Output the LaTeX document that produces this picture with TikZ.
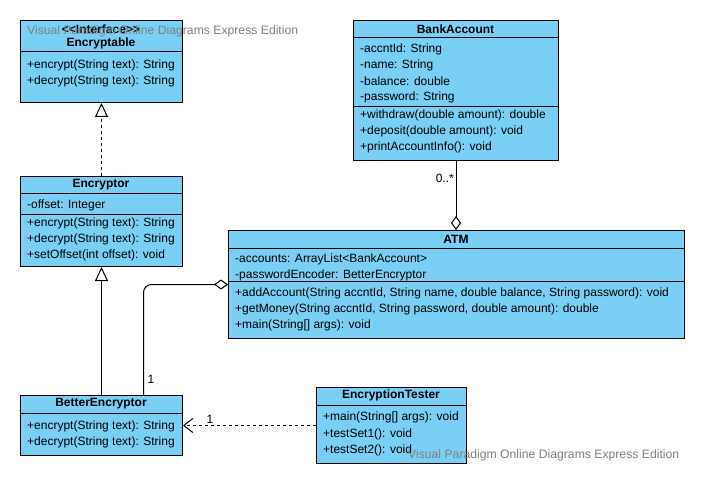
\documentclass[tikz,border=0pt]{standalone}
\usepackage{fontspec}
\setmainfont{Liberation Sans}
\usetikzlibrary{arrows.meta,positioning}
\definecolor{umlblue}{RGB}{122,207,245}
\definecolor{wmgray}{RGB}{128,128,128}

\tikzset{
	cls/.style={draw=black, fill=umlblue, anchor=north west, inner sep=0pt, line width=1pt},
	sep/.style={line width=1pt},
	head/.style={inner sep=0pt, font=\bfseries\fontsize{12}{14}\selectfont},
	item/.style={anchor=west, inner sep=0pt, font=\fontsize{12}{14}\selectfont},
	lbl/.style={inner sep=0pt, font=\fontsize{12}{14}\selectfont},
	wm/.style={anchor=west, inner sep=0pt, text=wmgray, font=\fontsize{12.2}{14}\selectfont},
	conn/.style={line width=1pt},
}

\begin{document}
\begin{tikzpicture}[x=1pt,y=-1pt]
	\useasboundingbox (0,0) rectangle (706,486);

	% Encryptable
	\node[cls, minimum width=162pt, minimum height=82pt] (encryptable) at (20,20) {};
		\draw[sep] (20,52) -- (182,52);
		\node[head] (encryptable-s) at (101,29) {\textless\kern0pt\textless\kern0pt Interface\kern0pt\textgreater\kern0pt\textgreater};
		\node[head] (encryptable-n) at (101,43) {Encryptable};
		\node[item] (encryptable-m1) at (27,65) {+encrypt(String text): String};
		\node[item] (encryptable-m2) at (27,81) {+decrypt(String text): String};

	% Encryptor
	\node[cls, minimum width=162pt, minimum height=90pt] (encryptor) at (20,176) {};
		\draw[sep] (20,194) -- (182,194);
		\draw[sep] (20,215) -- (182,215);
		\node[head] (encryptor-n) at (101,185) {Encryptor};
		\node[item] (encryptor-a1) at (27,205) {-offset: Integer};
		\node[item] (encryptor-m1) at (27,223) {+encrypt(String text): String};
		\node[item] (encryptor-m2) at (27,239) {+decrypt(String text): String};
		\node[item] (encryptor-m3) at (27,255) {+setOffset(int offset): void};

	% BetterEncryptor
	\node[cls, minimum width=162pt, minimum height=60pt] (betterenc) at (20,395) {};
		\draw[sep] (20,413) -- (182,413);
		\node[head] (betterenc-n) at (101,404) {BetterEncryptor};
		\node[item] (betterenc-m1) at (27,426) {+encrypt(String text): String};
		\node[item] (betterenc-m2) at (27,442) {+decrypt(String text): String};

	% BankAccount
	\node[cls, minimum width=205pt, minimum height=140pt] (bankaccount) at (353,20) {};
		\draw[sep] (353,38) -- (558,38);
		\draw[sep] (353,107) -- (558,107);
		\node[head] (bankaccount-n) at (455.5,29) {BankAccount};
		\node[item] (bankaccount-a1) at (360,49) {-accntId: String};
		\node[item] (bankaccount-a2) at (360,65) {-name: String};
		\node[item] (bankaccount-a3) at (360,81) {-balance: double};
		\node[item] (bankaccount-a4) at (360,97) {-password: String};
		\node[item] (bankaccount-m1) at (360,115) {+withdraw(double amount): double};
		\node[item] (bankaccount-m2) at (360,131) {+deposit(double amount): void};
		\node[item] (bankaccount-m3) at (360,147) {+printAccountInfo(): void};

	% ATM
	\node[cls, minimum width=456pt, minimum height=108pt] (atm) at (228,230) {};
		\draw[sep] (228,248) -- (684,248);
		\draw[sep] (228,281) -- (684,281);
		\node[head] (atm-n) at (456,239) {ATM};
		\node[item] (atm-a1) at (235,259) {-accounts: ArrayList\textless BankAccount\textgreater};
		\node[item] (atm-a2) at (235,275) {-passwordEncoder: BetterEncryptor};
		\node[item] (atm-m1) at (235,293) {+addAccount(String accntId, String name, double balance, String password): void};
		\node[item] (atm-m2) at (235,309) {+getMoney(String accntId, String password, double amount): double};
		\node[item] (atm-m3) at (235,325) {+main(String[] args): void};

	% EncryptionTester
	\node[cls, minimum width=150pt, minimum height=76pt] (tester) at (316,387) {};
		\draw[sep] (316,405) -- (466,405);
		\node[head] (tester-n) at (391,395) {EncryptionTester};
		\node[item] (tester-m1) at (323,417) {+main(String[] args): void};
		\node[item] (tester-m2) at (323,434) {+testSet1(): void};
		\node[item] (tester-m3) at (323,450) {+testSet2(): void};

	% connectors
	\draw[conn, dashed, -{Triangle[open, length=14pt, width=13pt, line width=1pt]}] (encryptor.north) -- (encryptable.south);
	\draw[conn, -{Triangle[open, length=14pt, width=13pt, line width=1pt]}] (betterenc.north) -- (encryptor.south);
	\draw[conn, rounded corners=8pt, -{Diamond[open, length=14pt, width=10pt, line width=1pt]}] ([xshift=42pt]betterenc.north) |- (atm.west);
	\draw[conn, -{Diamond[open, length=14pt, width=10pt, line width=1pt]}] (bankaccount.south) -- (bankaccount.south |- atm.north);
	\draw[conn, dashed, -{Straight Barb[length=9pt, width=14pt, line width=1pt]}] (tester.west) -- (betterenc.east);

	\node[lbl] (mult-better) at (151,379) {1};
	\node[lbl, anchor=east] (mult-bank) at (454,178) {0..*};
	\node[lbl] (mult-tester) at (210,419) {1};

	% watermark
	\node[wm] (wm-top) at (27,31) {Visual Paradigm Online Diagrams Express Edition};
	\node[wm] (wm-bottom) at (408,455) {Visual Paradigm Online Diagrams Express Edition};
\end{tikzpicture}
\end{document}
